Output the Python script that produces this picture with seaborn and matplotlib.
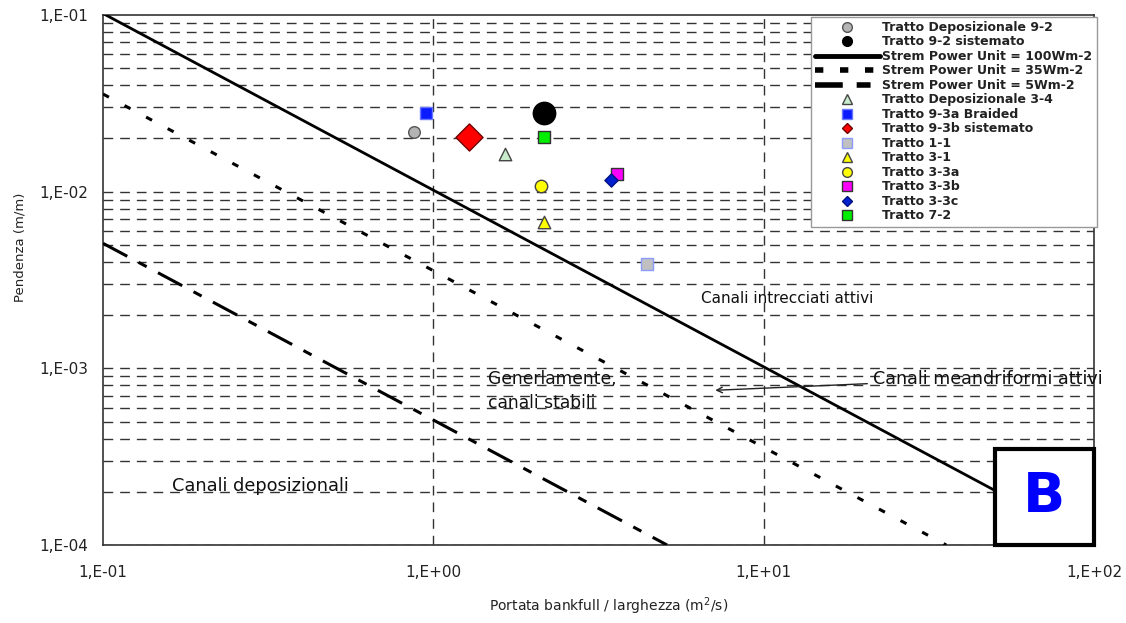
import numpy as np
import pandas as pd
import seaborn as sns
import matplotlib.pyplot as plt
from matplotlib.lines import Line2D
from matplotlib.patches import Rectangle
from matplotlib.ticker import LogLocator, FuncFormatter, NullFormatter

# measured reaches: unit discharge (m2/s) and slope (m/m)
reach_names = ['Tratto Deposizionale 9-2', 'Tratto 9-2 sistemato', 'Tratto Deposizionale 3-4',
               'Tratto 9-3a Braided', 'Tratto 9-3b sistemato', 'Tratto 1-1', 'Tratto 3-1',
               'Tratto 3-3a', 'Tratto 3-3b', 'Tratto 3-3c', 'Tratto 7-2']
reach_q = [0.875, 2.17, 1.65, 0.95, 1.28, 4.42, 2.17, 2.12, 3.59, 3.46, 2.17]
reach_s = [0.0219, 0.0277, 0.0164, 0.0280, 0.0203, 0.0039, 0.00675, 0.0107, 0.0126, 0.0117, 0.0205]

# stream power unit reference lines (end points)
power_names = ['Strem Power Unit = 100Wm-2', 'Strem Power Unit = 35Wm-2', 'Strem Power Unit = 5Wm-2']
power_q = [[0.1, 50.5], [0.1, 35.7], [0.1, 5.1]]
power_s = [[0.102, 2.02e-4], [0.0357, 1.0e-4], [5.1e-3, 1.0e-4]]

# marker styles: marker, face, edge, size in plot
styles = {
    'Tratto Deposizionale 9-2': ('o', '#b4b4b4', '#555555', 70),
    'Tratto 9-2 sistemato': ('o', 'black', 'black', 260),
    'Tratto Deposizionale 3-4': ('^', '#c8eccc', '#444444', 80),
    'Tratto 9-3a Braided': ('s', '#0a1cff', '#6a78ff', 80),
    'Tratto 9-3b sistemato': ('D', '#ff0000', '#700000', 190),
    'Tratto 1-1': ('s', '#c0c0c0', '#8a9cff', 80),
    'Tratto 3-1': ('^', '#ffff00', '#444444', 80),
    'Tratto 3-3a': ('o', '#ffff00', '#444444', 80),
    'Tratto 3-3b': ('s', '#ff00ff', '#333333', 80),
    'Tratto 3-3c': ('D', '#0020d0', '#001080', 45),
    'Tratto 7-2': ('s', '#00ee00', '#333333', 80),
}
line_dashes = {
    'Strem Power Unit = 100Wm-2': None,
    'Strem Power Unit = 35Wm-2': (0, (2.2, 5.8)),
    'Strem Power Unit = 5Wm-2': (0, (9, 4.2, 3, 4.2)),
}
legend_order = ['Tratto Deposizionale 9-2', 'Tratto 9-2 sistemato',
                'Strem Power Unit = 100Wm-2', 'Strem Power Unit = 35Wm-2', 'Strem Power Unit = 5Wm-2',
                'Tratto Deposizionale 3-4', 'Tratto 9-3a Braided', 'Tratto 9-3b sistemato',
                'Tratto 1-1', 'Tratto 3-1', 'Tratto 3-3a', 'Tratto 3-3b', 'Tratto 3-3c', 'Tratto 7-2']

sns.set_style('white')
plt.rcParams['font.family'] = ['DejaVu Sans']

fig = plt.figure(figsize=(11.26, 6.23), dpi=100)
ax = fig.add_axes([103 / 1126, 1 - 545 / 623, 991 / 1126, 530 / 623])
ax.set_xscale('log')
ax.set_yscale('log')
ax.set_xlim(0.1, 100)
ax.set_ylim(1e-4, 1e-1)

# grid: horizontal at every decade step, vertical only at decades
grid_kw = dict(color='#333333', lw=1.0, ls=(0, (7, 5)), zorder=1)
for dec in [1e-4, 1e-3, 1e-2]:
    for k in range(1, 10):
        ax.axhline(dec * k, **grid_kw)
for xv in [1, 10]:
    ax.axvline(xv, **grid_kw)

for name, q, s in zip(power_names, power_q, power_s):
    dash = line_dashes[name]
    sns.lineplot(x=q, y=s, ax=ax, color='black', zorder=3,
                 lw=2.0 if dash is None else 2.2, ls='-' if dash is None else dash)

df = pd.DataFrame({'name': reach_names, 'q': reach_q, 's': reach_s})
for _, row in df.iterrows():
    m, fc, ec, sz = styles[row['name']]
    sns.scatterplot(x=[row['q']], y=[row['s']], ax=ax, marker=m, s=sz, color=fc,
                    edgecolor=ec, linewidth=1.0, zorder=4)

# annotations
txt_kw = dict(color='#111111', va='center', ha='left', zorder=5)
ax.text(6.44, 2.5e-3, 'Canali intrecciati attivi', fontsize=11, **txt_kw)
ax.text(1.46, 8.65e-4, 'Generlamente,', fontsize=12.3, **txt_kw)
ax.text(1.46, 6.4e-4, 'canali stabili', fontsize=12.3, **txt_kw)
ax.text(0.162, 2.16e-4, 'Canali deposizionali', fontsize=12.8, **txt_kw)
ax.text(21.4, 8.65e-4, 'Canali meandriformi attivi', fontsize=12.6, clip_on=False, **txt_kw)
ax.annotate('', xy=(7.0, 7.5e-4), xytext=(21.0, 8.2e-4),
            arrowprops=dict(arrowstyle='->', color='#222222', lw=1.0), zorder=5)

# "B" box
ax.add_patch(Rectangle((0.9, 0.0), 0.1, 0.181, transform=ax.transAxes, facecolor='white',
                       edgecolor='black', lw=3, zorder=6, clip_on=False))
ax.text(0.95, 0.09, 'B', transform=ax.transAxes, fontsize=40, fontweight='bold',
        color='#0000ff', ha='center', va='center', zorder=7)

# axes cosmetics
for sp in ax.spines.values():
    sp.set_color('#333333')
    sp.set_linewidth(1.2)
ax.xaxis.set_major_locator(LogLocator(base=10))
ax.yaxis.set_major_locator(LogLocator(base=10))
ax.xaxis.set_minor_locator(LogLocator(base=10, subs=np.arange(2, 10)))
ax.yaxis.set_minor_locator(LogLocator(base=10, subs=np.arange(2, 10)))
fmt = FuncFormatter(lambda v, p: '1,E{:+03d}'.format(int(round(np.log10(v)))))
ax.xaxis.set_major_formatter(fmt)
ax.yaxis.set_major_formatter(fmt)
ax.xaxis.set_minor_formatter(NullFormatter())
ax.yaxis.set_minor_formatter(NullFormatter())
ax.tick_params(which='major', direction='inout', length=9, width=1.0, color='#333333',
               labelsize=11, labelcolor='#222222')
ax.tick_params(which='minor', direction='inout', length=7, width=1.0, color='#333333')
ax.tick_params(axis='x', which='major', pad=10)
ax.tick_params(axis='y', which='major', pad=6)
ax.set_xlabel('Portata bankfull / larghezza (m$^2$/s)', fontsize=10, color='#222222', labelpad=8)
ax.set_ylabel('Pendenza (m/m)', fontsize=9.5, color='#222222', labelpad=8)
ax.xaxis.set_label_coords(0.51, -0.095)
ax.yaxis.set_label_coords(-0.077, 0.562)

# legend with proxy handles
legend_dash = {
    'Strem Power Unit = 100Wm-2': '-',
    'Strem Power Unit = 35Wm-2': (0, (1.5, 3.0)),
    'Strem Power Unit = 5Wm-2': (0, (5, 2.5, 2.5, 2.5)),
}
handles = []
for name in legend_order:
    if name in legend_dash:
        handles.append(Line2D([], [], color='black', lw=3.5 if name.endswith('100Wm-2') else 4.0,
                              ls=legend_dash[name]))
    else:
        m, fc, ec, sz = styles[name]
        handles.append(Line2D([], [], ls='', marker=m, markersize=7 if m != 'D' else 5.5,
                              markerfacecolor=fc, markeredgecolor=ec, markeredgewidth=1.0))
leg = ax.legend(handles, legend_order, loc='upper right', bbox_to_anchor=(1.003, 0.997),
                prop=dict(size=9, weight='bold'), labelspacing=0.12, handlelength=5.2,
                handletextpad=0.2, borderpad=0.35, frameon=True, fancybox=False,
                framealpha=1, edgecolor='#999999', borderaxespad=0.0)
leg.set_zorder(8)
leg.get_frame().set_linewidth(1.0)
for t in leg.get_texts():
    t.set_color('#222222')

fig.savefig('out.png', dpi=100)
